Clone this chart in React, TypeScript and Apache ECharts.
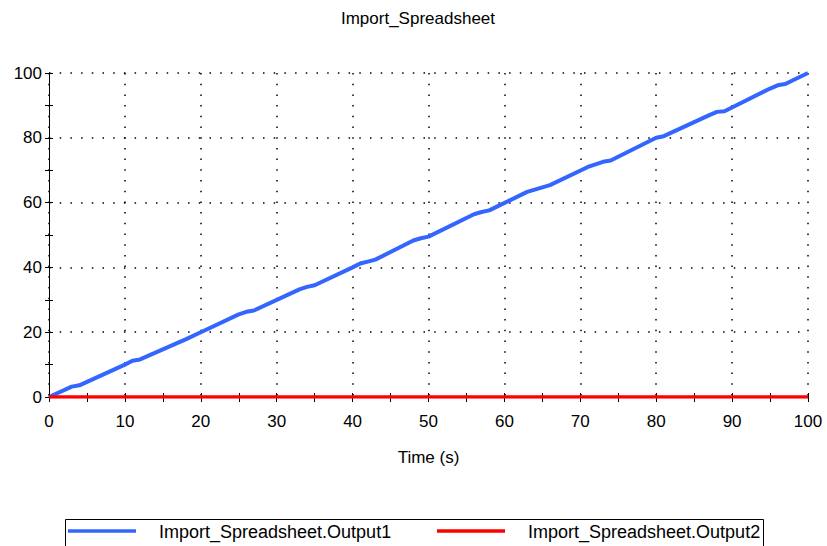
import React, { useEffect, useRef } from "react";
import * as echarts from "echarts";

const chartTitle = "Import_Spreadsheet";
const xAxisName = "Time (s)";
const seriesNames = ["Import_Spreadsheet.Output1", "Import_Spreadsheet.Output2"];
const seriesColors = ["#3366FF", "#FF0000"];

// Output1: time (s) and value
const output1Time = [0, 3, 4, 10, 11, 12, 18, 20, 25, 26, 27, 33, 34, 35, 40, 41, 42, 43, 48, 49, 50, 56, 57, 58, 63, 64, 65, 66, 71, 72, 73, 74, 80, 81, 87, 88, 89, 95, 96, 97, 100];
const output1Value = [0, 3.2, 3.6, 10, 11.2, 11.6, 17.8, 20, 25.5, 26.3, 26.7, 33.2, 34, 34.5, 40, 41.2, 41.8, 42.4, 48.3, 49, 49.5, 56.4, 57.1, 57.6, 63.3, 64, 64.7, 65.4, 71, 71.8, 72.6, 73, 80, 80.5, 87, 88, 88.2, 95.2, 96.2, 96.6, 100];

// Output2: constant zero
const output2Time = [0, 100];
const output2Value = [0, 0];

const FONT = "'Liberation Sans', Arial, sans-serif";

export default function App() {
  const ref = useRef<HTMLDivElement>(null);

  useEffect(() => {
    if (!ref.current) return;
    const chart = echarts.init(ref.current, undefined, { renderer: "svg" });

    const dotted = { color: "#000", width: 1.5, type: [1.5, 9.2] as any };

    const baseX = { type: "value" as const, min: 0, max: 100, interval: 10, gridIndex: 0 };
    const baseY = { type: "value" as const, min: 0, max: 100, interval: 20, gridIndex: 0 };

    const option: any = {
      animation: false,
      backgroundColor: "#fff",
      textStyle: { fontFamily: FONT },
      grid: { left: 49, right: 19, top: 73, bottom: 149, containLabel: false },
      xAxis: [
        {
          ...baseX,
          position: "bottom",
          name: xAxisName,
          nameLocation: "middle",
          nameGap: 52,
          nameTextStyle: { color: "#000", fontSize: 17, fontFamily: FONT },
          axisLine: { show: true, lineStyle: { color: "#000", width: 1 } },
          axisTick: { show: true, inside: false, length: 5, lineStyle: { color: "#000" } },
          minorTick: { show: true, splitNumber: 2, length: 5, lineStyle: { color: "#000" } },
          axisLabel: { color: "#000", fontSize: 17, margin: 16, fontFamily: FONT },
          splitLine: { show: true, lineStyle: dotted },
        },
        {
          ...baseX,
          position: "bottom",
          axisLine: { show: false },
          axisTick: { show: true, inside: true, length: 4, lineStyle: { color: "#000" } },
          minorTick: { show: true, splitNumber: 2, length: 4, lineStyle: { color: "#000" } },
          axisLabel: { show: false },
          splitLine: { show: false },
        },
        {
          ...baseX,
          position: "top",
          axisLine: { show: true, lineStyle: { color: "#808080", width: 2 } },
          axisTick: { show: false },
          axisLabel: { show: false },
          splitLine: { show: false },
        },
      ],
      yAxis: [
        {
          ...baseY,
          position: "left",
          axisLine: { show: true, lineStyle: { color: "#000", width: 1 } },
          axisTick: { show: true, inside: false, length: 4, lineStyle: { color: "#000" } },
          minorTick: { show: true, splitNumber: 2, length: 4, lineStyle: { color: "#000" } },
          axisLabel: { color: "#000", fontSize: 17, margin: 7, fontFamily: FONT, padding: [6, 0, 0, 0] },
          splitLine: { show: true, lineStyle: dotted },
        },
        {
          ...baseY,
          position: "left",
          axisLine: { show: false },
          axisTick: { show: true, inside: true, length: 4, lineStyle: { color: "#000" } },
          minorTick: { show: true, splitNumber: 2, length: 4, lineStyle: { color: "#000" } },
          axisLabel: { show: false },
          splitLine: { show: false },
        },
        {
          ...baseY,
          position: "right",
          axisLine: { show: true, lineStyle: { color: "#000", width: 1 } },
          axisTick: { show: false },
          axisLabel: { show: false },
          splitLine: { show: false },
        },
      ],
      series: [
        {
          name: seriesNames[0],
          type: "line",
          xAxisIndex: 0,
          yAxisIndex: 0,
          data: output1Time.map((t, i) => [t, output1Value[i]]),
          showSymbol: false,
          smooth: false,
          lineStyle: { color: seriesColors[0], width: 4 },
          itemStyle: { color: seriesColors[0] },
          z: 3,
        },
        {
          name: seriesNames[1],
          type: "line",
          xAxisIndex: 0,
          yAxisIndex: 0,
          data: output2Time.map((t, i) => [t, output2Value[i]]),
          showSymbol: false,
          lineStyle: { color: seriesColors[1], width: 3.5 },
          itemStyle: { color: seriesColors[1] },
          z: 4,
        },
      ],
      graphic: [
        {
          type: "text",
          x: 418,
          y: 18,
          style: {
            text: chartTitle,
            fill: "#000",
            fontSize: 17,
            fontFamily: FONT,
            textAlign: "center",
            textVerticalAlign: "middle",
          },
        },
        {
          type: "rect",
          shape: { x: 65.5, y: 519.5, width: 698, height: 40 },
          style: { fill: "#fff", stroke: "#000", lineWidth: 1 },
        },
        {
          type: "line",
          shape: { x1: 68, y1: 531, x2: 136, y2: 531 },
          style: { stroke: seriesColors[0], lineWidth: 3.5 },
        },
        {
          type: "text",
          x: 159,
          y: 532,
          style: {
            text: seriesNames[0],
            fill: "#000",
            fontSize: 18,
            fontFamily: FONT,
            textAlign: "left",
            textVerticalAlign: "middle",
          },
        },
        {
          type: "line",
          shape: { x1: 437, y1: 531, x2: 505, y2: 531 },
          style: { stroke: seriesColors[1], lineWidth: 3.5 },
        },
        {
          type: "text",
          x: 528,
          y: 532,
          style: {
            text: seriesNames[1],
            fill: "#000",
            fontSize: 18,
            fontFamily: FONT,
            textAlign: "left",
            textVerticalAlign: "middle",
          },
        },
      ],
    };

    chart.setOption(option);
    return () => chart.dispose();
  }, []);

  return <div ref={ref} style={{ width: 827, height: 546, position: "absolute", left: 0, top: 0 }} />;
}
